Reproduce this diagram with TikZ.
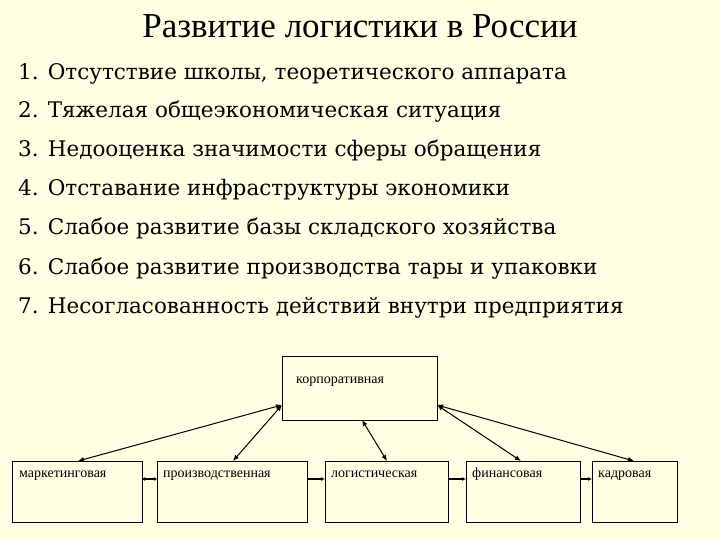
\documentclass[tikz,border=0pt]{standalone}
\usepackage{fontspec}
\setmainfont{DejaVu Serif}
\newfontfamily\tms{Liberation Serif}
\usetikzlibrary{arrows.meta}
\begin{document}
\begin{tikzpicture}[x=1pt,y=-1pt,
  box/.style={draw,line width=0.8pt,fill=bg},
  lab/.style={anchor=base west,font=\tms\fontsize{14}{16}\selectfont,inner sep=0pt},
  item/.style={anchor=base west,font=\fontsize{21.5}{24}\selectfont,inner sep=0pt},
  dbl/.style={{Latex[length=6pt,width=5pt]}-{Latex[length=6pt,width=5pt]},line width=1pt},
  sgl/.style={-{Latex[length=4pt,width=4pt]},line width=1.2pt}]
\definecolor{bg}{HTML}{FFFFE3}
\fill[bg] (0,0) rectangle (720,540);
\useasboundingbox (0,0) rectangle (720,540);
\node[font=\tms\fontsize{35}{38}\selectfont,anchor=base] (title) at (360,38) {Развитие логистики в России};
\node[item] (i1) at (18,80) {1. Отсутствие школы, теоретического аппарата};
\node[item] (i2) at (18,118) {2. Тяжелая общеэкономическая ситуация};
\node[item] (i3) at (18,157) {3. Недооценка значимости сферы обращения};
\node[item] (i4) at (18,196) {4. Отставание инфраструктуры экономики};
\node[item] (i5) at (18,235) {5. Слабое развитие базы складского хозяйства};
\node[item] (i6) at (18,274) {6. Слабое развитие производства тары и упаковки};
\node[item] (i7) at (18,313) {7. Несогласованность действий внутри предприятия};
\draw[box] (282,356) rectangle (437,420);
\node[lab] (tl) at (296,383) {корпоративная};
\draw[box] (12,461) rectangle (142,522);
\draw[box] (157,461) rectangle (307,522);
\draw[box] (325,461) rectangle (448,522);
\draw[box] (466,461) rectangle (580,522);
\draw[box] (592,461) rectangle (677,522);
\node[lab] (b1) at (19,477) {маркетинговая};
\node[lab] (b2) at (163,477) {производственная};
\node[lab] (b3) at (331,477) {логистическая};
\node[lab] (b4) at (472,477) {финансовая};
\node[lab] (b5) at (598,477) {кадровая};
\coordinate (c1) at (282,405);
\coordinate (c2) at (362,420);
\coordinate (c3) at (437,405);
\coordinate (e1) at (78,461);
\coordinate (e2) at (233,461);
\coordinate (e3) at (387,461);
\coordinate (e4) at (521,461);
\coordinate (e5) at (634,461);
\draw[dbl] (c1) -- (e1);
\draw[dbl] (c1) -- (e2);
\draw[dbl] (c2) -- (e3);
\draw[dbl] (c3) -- (e4);
\draw[dbl] (c3) -- (e5);
\draw[{Latex[length=3pt,width=4pt]}-{Latex[length=3pt,width=4pt]},line width=1.2pt] (142,479) -- (157,479);
\draw[sgl] (307,479) -- (325,479);
\draw[sgl] (448,479) -- (466,479);
\draw[sgl] (580,479) -- (592,479);
\end{tikzpicture}
\end{document}
